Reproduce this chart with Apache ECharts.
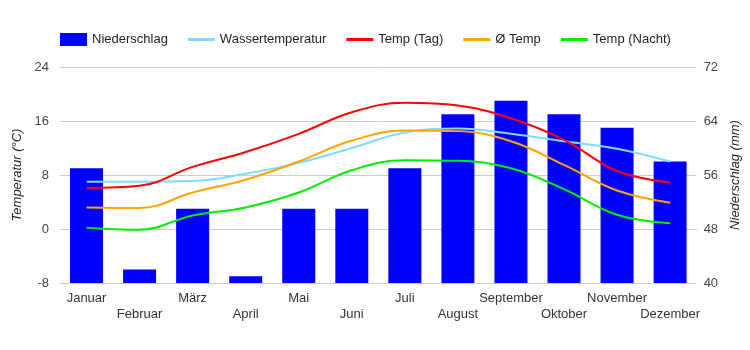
<!DOCTYPE html>
<html>
<head>
<meta charset="utf-8">
<script src="https://cdn.jsdelivr.net/npm/echarts@6/dist/echarts.min.js"></script>
<style>
  html, body { margin: 0; padding: 0; background: #fff; }
  #chart { width: 750px; height: 350px; }
</style>
</head>
<body>
<div id="chart"></div>
<script>
const months = ['Januar', 'Februar', 'März', 'April', 'Mai', 'Juni', 'Juli', 'August', 'September', 'Oktober', 'November', 'Dezember'];
const niederschlag = [57, 42, 51, 41, 51, 51, 57, 65, 67, 65, 63, 58];
const wassertemp = [7, 7, 7.1, 8.2, 9.8, 12, 14.3, 14.9, 14.1, 13, 11.9, 10];
const tempTag = [6.1, 6.4, 9.2, 11.4, 14.1, 17.3, 18.7, 18.3, 16.4, 13.2, 8.6, 6.9];
const tempAvg = [3.2, 3.1, 5.4, 7.3, 10, 13.1, 14.6, 14.5, 13, 9.5, 5.7, 3.9];
const tempNacht = [0.2, -0.1, 2, 3.2, 5.4, 8.7, 10.2, 10.1, 9, 5.9, 2.1, 0.85];

const font = '"Liberation Sans", Arial, sans-serif';

function lineSeries(name, data, color) {
    return {
        name: name,
        type: 'line',
        yAxisIndex: 0,
        data: data,
        smooth: 0.4,
        symbol: 'none',
        lineStyle: { width: 2, color: color },
        itemStyle: { color: color }
    };
}

// legend entry for a line: hide the centre dot, keep the stroke
function lineLegend(name) {
    return { name: name, itemStyle: { opacity: 0 }, lineStyle: { width: 3 } };
}

const chart = echarts.init(document.getElementById('chart'));
chart.setOption({
    animation: false,
    textStyle: { fontFamily: font },
    legend: {
        left: 60,
        top: 33,
        padding: 0,
        itemWidth: 27,
        itemHeight: 13,
        itemGap: 18.5,
        textStyle: { fontSize: 13, color: '#222', fontFamily: font },
        data: [
            { name: 'Niederschlag', icon: 'rect' },
            lineLegend('Wassertemperatur'),
            lineLegend('Temp (Tag)'),
            lineLegend('Ø Temp'),
            lineLegend('Temp (Nacht)')
        ]
    },
    grid: { left: 60, right: 45, top: 67, bottom: 67, containLabel: false },
    xAxis: {
        type: 'category',
        data: months,
        axisLine: { show: true, lineStyle: { color: '#ccc' } },
        axisTick: { show: false },
        axisLabel: {
            interval: 0,
            margin: 7,
            fontSize: 13,
            lineHeight: 16,
            color: '#333',
            formatter: function (v, i) { return i % 2 ? '\n' + v : v; }
        }
    },
    yAxis: [
        {
            type: 'value',
            min: -8, max: 24, interval: 8,
            name: 'Temperatur (°C)',
            nameLocation: 'middle',
            nameRotate: 90,
            nameGap: 36,
            nameTextStyle: { fontSize: 13, fontStyle: 'italic', color: '#222' },
            axisLine: { show: false },
            axisTick: { show: false },
            axisLabel: { fontSize: 13, color: '#444', margin: 11 },
            splitLine: { lineStyle: { color: '#ccc' } }
        },
        {
            type: 'value',
            min: 40, max: 72, interval: 8,
            name: 'Niederschlag (mm)',
            nameLocation: 'middle',
            nameRotate: 90,
            nameGap: 27,
            nameTextStyle: { fontSize: 13, fontStyle: 'italic', color: '#222' },
            axisLine: { show: false },
            axisTick: { show: false },
            axisLabel: { fontSize: 13, color: '#444', margin: 7 },
            splitLine: { show: false }
        }
    ],
    series: [
        {
            name: 'Niederschlag',
            type: 'bar',
            yAxisIndex: 1,
            data: niederschlag,
            barWidth: 33,
            itemStyle: { color: '#0000ff' }
        },
        lineSeries('Wassertemperatur', wassertemp, '#80dbff'),
        lineSeries('Temp (Tag)', tempTag, '#ff0000'),
        lineSeries('Ø Temp', tempAvg, '#ffa500'),
        lineSeries('Temp (Nacht)', tempNacht, '#00ee00')
    ]
});
</script>
</body>
</html>
